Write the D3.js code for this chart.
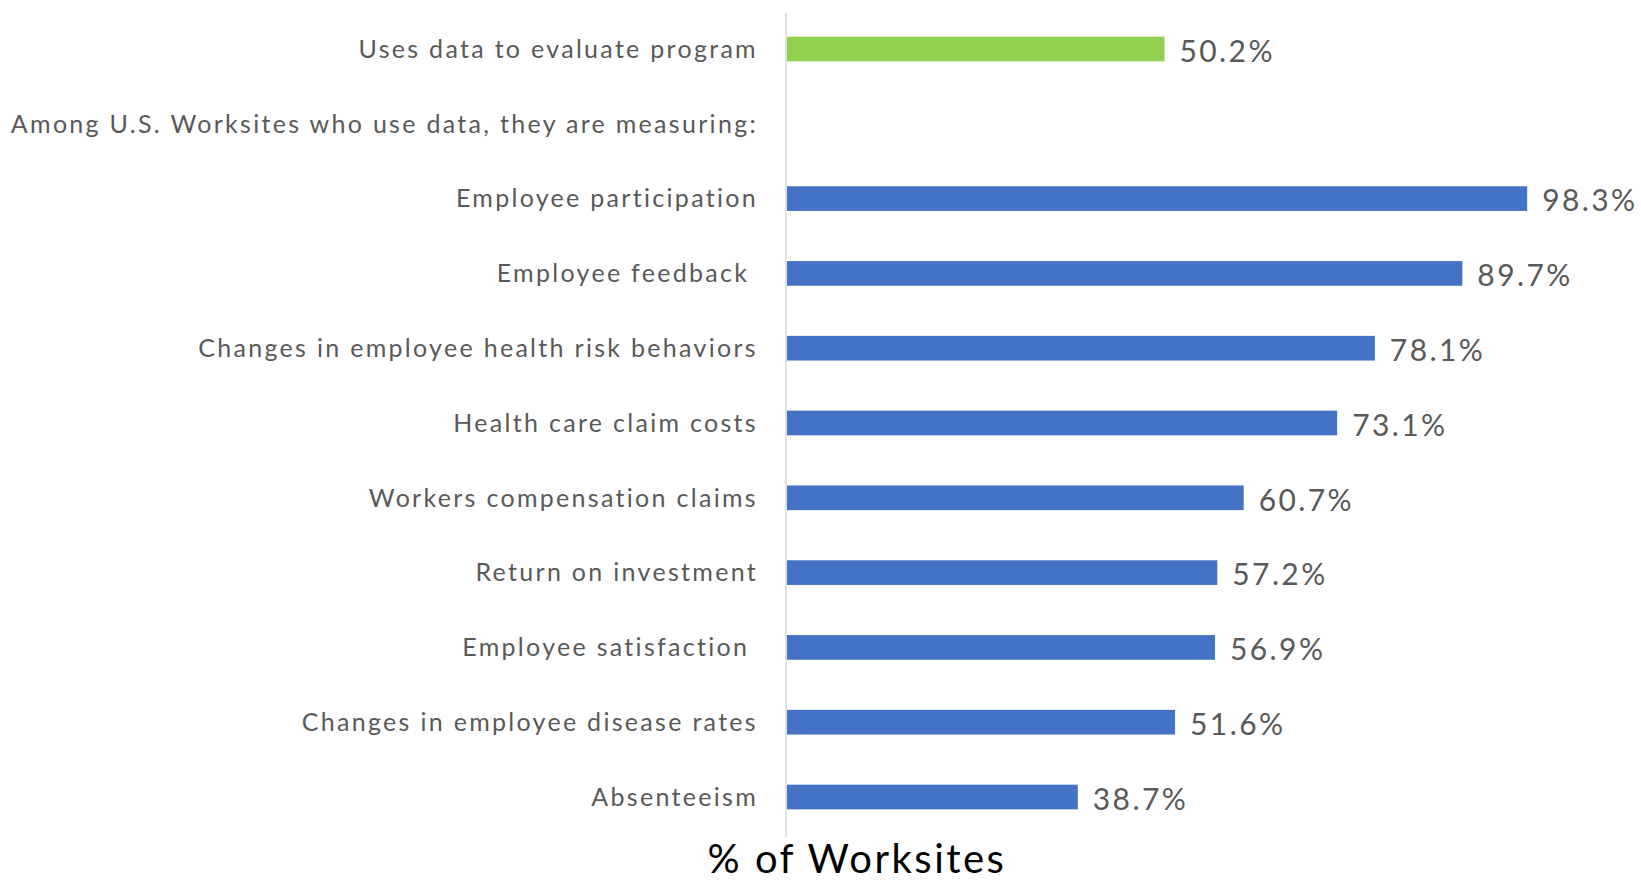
<!DOCTYPE html>
<html>
  <head>
    <meta charset="utf-8">
    <style>
      body { margin: 0; background: #fff; }
      svg { display: block; font-family: Lato, "Open Sans", sans-serif; }
    </style>
    <script src="https://d3js.org/d3.v7.min.js"></script>
    <title>% of Worksites</title>
  </head>
  <body>
    <div id="chart"></div>
    <script>
    // data
    var categories = [
      "Uses data to evaluate program",
      "Among U.S. Worksites who use data, they are measuring:",
      "Employee participation",
      "Employee feedback ",
      "Changes in employee health risk behaviors",
      "Health care claim costs",
      "Workers compensation claims",
      "Return on investment",
      "Employee satisfaction ",
      "Changes in employee disease rates",
      "Absenteeism"
    ]
    var values = [50.2, null, 98.3, 89.7, 78.1, 73.1, 60.7, 57.2, 56.9, 51.6, 38.7]
    var highlighted = ["Uses data to evaluate program"]
    var axisTitle = "% of Worksites"

    var width = 1641, height = 882

    var svg = d3.select("#chart").append("svg")
      .attr("width", width)
      .attr("height", height)

    var x = d3.scaleLinear().domain([0, 100]).range([786, 1540])
    var y = d3.scaleBand()
      .domain(categories)
      .range([11.6, 834.4])
      .paddingInner(0.67)
      .paddingOuter(0.335)

    var rows = categories.map(function(c, i) { return {name: c, value: values[i]} })

    // vertical axis line
    svg.append("line")
      .attr("x1", x(0)).attr("x2", x(0))
      .attr("y1", 13).attr("y2", 837)
      .style("stroke", "#d9d9d9")
      .style("stroke-width", 1.5)

    // bars
    svg.selectAll("rect.bar")
      .data(rows.filter(function(d) { return d.value != null }))
      .enter().append("rect")
      .attr("class", "bar")
      .attr("x", x(0) + 1)
      .attr("y", function(d) { return y(d.name) })
      .attr("width", function(d) { return x(d.value) - x(0) - 1 })
      .attr("height", y.bandwidth())
      .style("fill", function(d) { return highlighted.includes(d.name) ? "#92d050" : "#4472c4" })

    // category labels (the original is rather widely spaced)
    svg.selectAll("text.cat")
      .data(rows)
      .enter().append("text")
      .attr("class", "cat")
      .attr("x", 758)
      .attr("y", function(d) { return y(d.name) + y.bandwidth() / 2 })
      .attr("dy", "0.35em")
      .style("text-anchor", "end")
      .style("white-space", "pre")
      .style("letter-spacing", "2.3px")
      .style("font-size", "25px")
      .style("fill", "#595959")
      .text(function(d) { return d.name })

    // value labels
    svg.selectAll("text.val")
      .data(rows.filter(function(d) { return d.value != null }))
      .enter().append("text")
      .attr("class", "val")
      .attr("x", function(d) { return x(d.value) + 15 })
      .attr("y", function(d) { return y(d.name) + y.bandwidth() / 2 + 2 })
      .attr("dy", "0.36em")
      .style("letter-spacing", "2.4px")
      .style("font-size", "30px")
      .style("fill", "#595959")
      .text(function(d) { return d.value.toFixed(1) + "%" })

    // axis title
    svg.append("text")
      .attr("x", 857)
      .attr("y", 873)
      .style("text-anchor", "middle")
      .style("letter-spacing", "2.5px")
      .style("font-size", "40px")
      .style("fill", "#000")
      .text(axisTitle)
    </script>
  </body>
</html>
